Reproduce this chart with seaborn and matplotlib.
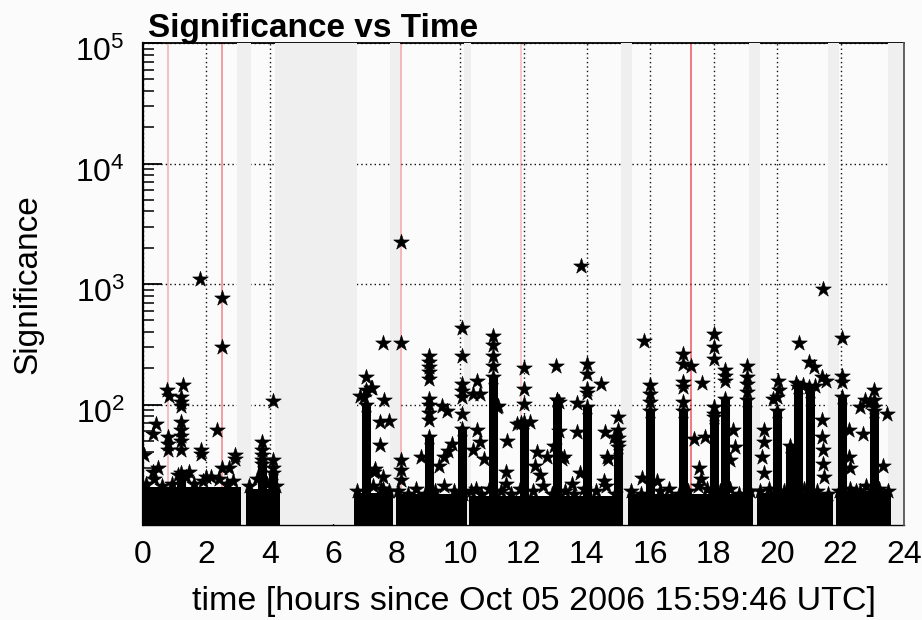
# Significance vs Time  (star scatter on log axis, ROOT-like look)
import numpy as np
import pandas as pd
import matplotlib
matplotlib.use("Agg")
import matplotlib.pyplot as plt
import matplotlib.transforms as mtransforms
from matplotlib.ticker import LogLocator, NullFormatter, LogFormatterMathtext
import seaborn as sns

# 1. DATA (time in hours)
# dead time, drawn as grey bands
gap_start = [2.96, 4.17, 7.79, 10.12, 15.08, 19.10, 21.60, 23.49]
gap_end = [3.40, 6.74, 8.10, 10.36, 15.43, 19.46, 21.96, 24.00]

# red marker lines
red_t = [0.78, 2.48, 8.14, 11.92, 17.29]
red_alpha = [0.35, 0.55, 0.40, 0.30, 0.75]

# dense noise floor, one block per run
band_start = [-0.2, 3.24, 6.67, 7.99, 10.27, 15.31, 19.35, 21.85]
band_end = [3.10, 4.32, 7.87, 10.19, 15.15, 19.23, 21.75, 23.58]
band_top = [20.5, 20, 18.5, 18, 17.5, 18, 18.5, 19]

# stars sticking out of the top of the floor
floor_t = [0.10, 0.35, 0.60, 0.90, 1.10, 1.35, 1.60, 1.90, 2.15, 2.40, 2.65, 2.85,
           3.35, 3.60, 3.90, 4.20,
           6.75, 7.25, 7.50, 7.75,
           8.05, 8.35, 8.60, 8.90, 9.20, 9.50, 9.80, 10.10,
           10.35, 10.65, 10.90, 11.30, 11.60, 11.90, 12.30, 12.60, 12.90, 13.30,
           13.60, 13.90, 14.30, 14.60, 14.90,
           15.40, 15.70, 16.30, 16.60, 16.90, 17.20, 17.50, 17.80, 18.20, 18.50,
           18.80, 19.15,
           19.45, 19.75, 20.20, 20.50, 20.85, 21.25, 21.60,
           21.95, 22.30, 22.50, 22.80, 23.20, 23.50]
floor_sig = [22, 24, 21, 22, 26, 25, 22, 23, 25, 24, 22, 23,
             21, 24, 22, 21,
             19, 21, 20, 19,
             19, 18, 20, 18, 19, 21, 19, 18,
             19, 18, 20, 19, 18, 20, 19, 21, 18, 19,
             18, 20, 19, 21, 18,
             19, 18, 19, 20, 18, 19, 21, 20, 19, 20,
             18, 19,
             19, 20, 19, 21, 20, 19, 18,
             19, 20, 19, 21, 20, 19]

# dense columns of stars
col_t = [1.20, 3.74, 4.11, 7.02, 9.03, 10.05, 11.03, 12.03, 13.05, 14.00, 14.99,
         15.99, 17.02, 18.02, 18.34, 19.04, 20.01, 20.41, 20.67, 21.04, 22.04, 23.04]
col_top = [27, 32, 27, 100, 54, 63, 168, 72, 108, 95, 44,
           89, 89, 79, 112, 108, 89, 45, 140, 130, 115, 89]

# single stars above the floor
star_t = [0.03, 0.31, 0.41, 0.48, 0.31, 0.75, 0.82, 0.80, 0.80, 0.80, 1.27, 1.20, 1.20,
          1.20, 1.20, 1.20, 1.20, 1.20, 1.20, 1.46, 1.80, 1.82, 1.82, 2.00, 2.32, 2.48,
          2.48, 2.48, 2.72, 2.90, 2.90,
          3.74, 3.74, 3.74, 3.74, 4.11, 4.11, 4.11,
          6.85, 7.02, 6.98, 7.02, 7.20, 7.21, 7.46, 7.46, 7.32, 7.58, 7.58, 7.61, 7.76,
          7.30, 7.58,
          8.14, 8.14, 8.14, 8.14, 8.14, 8.76, 9.03, 9.03, 9.03, 9.03, 9.03, 9.03, 9.03,
          9.03, 9.03, 9.42, 9.60, 9.32, 9.48, 9.63, 9.74, 10.05, 10.05, 10.05, 10.05,
          10.05, 10.05,
          10.42, 10.53, 10.63, 10.53, 10.63, 10.42, 10.74, 10.50, 11.03, 11.03, 11.03,
          11.03, 11.15, 11.21, 11.47, 11.45, 11.45, 11.79, 12.03, 12.03, 12.03, 11.93,
          12.20, 12.42, 12.37, 12.52, 12.73, 13.02, 13.05, 13.12, 12.95, 13.20, 13.12,
          13.28, 13.68, 13.70, 13.82, 14.00, 14.00, 14.00, 14.00, 14.45, 13.52, 13.78,
          14.57, 14.63, 14.68, 14.84, 14.55, 14.99, 14.99, 14.99, 14.99,
          15.81, 15.99, 15.99, 15.99, 15.73, 16.20, 17.02, 17.02, 17.02, 17.02, 17.02,
          17.29, 17.64, 17.39, 17.71, 17.54, 17.60, 18.02, 18.02, 18.02, 18.02, 18.02,
          18.34, 18.34, 18.34, 18.62, 18.67, 18.52, 19.04, 19.04, 19.04, 19.04,
          19.57, 19.57, 19.52, 19.60, 20.01, 20.04, 20.07, 19.88, 20.70, 20.99, 21.15,
          21.41, 21.55, 20.60, 20.80, 21.00, 21.20, 21.41, 21.41, 21.44, 21.45, 21.48,
          21.46,
          22.04, 22.04, 22.04, 22.25, 22.25, 22.30, 23.04, 23.04, 23.04, 22.62, 22.78,
          22.93, 23.46, 22.72, 23.35, 22.62]
star_sig = [38, 57, 69, 30, 27.5, 132, 118, 54, 47, 42, 144, 115, 105,
            98, 71, 61, 55, 50, 42, 27.5, 1100, 42, 39, 25, 62, 760,
            300, 29.5, 30, 38, 35,
            49, 42, 38, 34.5, 107, 34.5, 30,
            118, 168, 116, 131, 136, 138, 71, 46, 29, 25, 325, 109, 73,
            27.5, 20,
            2240, 325, 34.5, 28.5, 23.5, 36.6, 251, 224, 204, 186, 163, 112, 100,
            85, 75, 97, 89, 31, 37, 41, 47, 430, 251, 148, 130,
            115, 84,
            123, 158, 123, 61, 49, 42, 35, 20, 373, 310, 255,
            210, 95, 98, 50, 27.5, 22, 69, 200, 135, 101, 70,
            72, 40, 31, 26, 36.6, 210, 108, 105, 45, 35, 60,
            37, 103, 59, 1410, 218, 179, 135, 125, 148, 22, 27,
            59, 37, 35.5, 54, 23, 79, 61, 53, 48,
            335, 144, 123, 105, 24.6, 23, 263, 218, 153, 141, 105,
            207, 150, 52, 54, 30, 24, 386, 300, 240, 95, 84,
            192, 174, 158, 61, 44, 34.5, 210, 168, 148, 126,
            61, 49, 37, 27, 115, 158, 131, 112, 325, 224, 204,
            168, 158, 150, 145, 140, 142, 74, 54, 42, 32, 25,
            910,
            357, 174, 153, 61, 37, 29.5, 132, 108, 95, 96, 108,
            105, 84, 57, 31, 19]

stars = pd.DataFrame({"time": star_t + col_t + floor_t,
                      "significance": star_sig + col_top + floor_sig})

# 2. STYLE
sns.set_style("white")
plt.rcParams["font.family"] = ["Liberation Sans", "DejaVu Sans"]
plt.rcParams["mathtext.fontset"] = "custom"
plt.rcParams["mathtext.rm"] = "Liberation Sans"
plt.rcParams["mathtext.it"] = "Liberation Sans:italic"
plt.rcParams["mathtext.bf"] = "Liberation Sans:bold"
plt.rcParams["text.color"] = "black"
plt.rcParams["axes.labelcolor"] = "black"
plt.rcParams["xtick.color"] = "black"
plt.rcParams["ytick.color"] = "black"

bg = "#fbfbfb"
fig = plt.figure(figsize=(9.22, 6.2), dpi=100, facecolor=bg)
ax = fig.add_axes([143 / 922, 1 - 525 / 620, 761 / 922, 482 / 620], facecolor=bg)

# 3. PLOT
ax.set_yscale("log")
ax.set_xlim(0, 24)
ax.set_ylim(10, 1e5)

# dotted grid
ax.set_axisbelow(True)
ax.grid(True, which="major", color="#111111", lw=1.0, ls=(0, (1, 2.2)))
ax.grid(False, which="minor")

# red marker lines
for t, a in zip(red_t, red_alpha):
    ax.axvline(t, color="#e8202a", alpha=a, lw=1.1, zorder=1)

# dead time
for s, e in zip(gap_start, gap_end):
    ax.axvspan(s, e, ymin=0.003, ymax=1, color="#efefef", lw=0, zorder=2.6)

# noise floor and dense columns
ax.bar(band_start, np.array(band_top) - 10, bottom=10,
       width=np.array(band_end) - np.array(band_start),
       align="edge", color="black", lw=0, zorder=3)
ax.vlines(col_t, 10, col_top, color="black", lw=6.5, zorder=3)

sns.scatterplot(data=stars, x="time", y="significance", marker="*", s=140,
                color="black", edgecolor="black", linewidth=0.4, zorder=4, ax=ax)

# 4. AXES
ax.set_xticks(range(0, 25, 2))
ax.set_yticks([1e2, 1e3, 1e4, 1e5])
ax.yaxis.set_major_formatter(LogFormatterMathtext())
ax.yaxis.set_minor_locator(LogLocator(base=10, subs=np.arange(2, 10)))
ax.yaxis.set_minor_formatter(NullFormatter())
ax.set_xlim(0, 24)
ax.set_ylim(10, 1e5)

ax.tick_params(axis="x", which="both", length=0, pad=11, labelsize=23)
ax.tick_params(axis="y", which="major", direction="in", length=14, width=1.3,
               pad=13, labelsize=23, right=False, left=True)
ax.tick_params(axis="y", which="minor", direction="in", length=8, width=1.1,
               right=False, left=True)

for lab in ax.get_yticklabels():
    lab.set_va("top")
    lab.set_transform(lab.get_transform() +
                      mtransforms.ScaledTranslation(0, 6 / 100, fig.dpi_scale_trans))

ax.spines["left"].set_linewidth(1.6)
ax.spines["top"].set_linewidth(1.3)
ax.spines["bottom"].set_linewidth(1.0)
ax.spines["right"].set_linewidth(1.3)
for name, sp in ax.spines.items():
    sp.set_visible(True)
    sp.set_color("black")
ax.spines["right"].set_color("#555555")
ax.spines["right"].set_zorder(3)

ax.set_xlabel("time [hours since Oct 05 2006 15:59:46 UTC]", fontsize=24.5, va="top")
ax.xaxis.set_label_coords(0.514, -0.127)
ax.set_ylabel("Significance", fontsize=24)
ax.yaxis.set_label_coords(-0.131, 0.5)

fig.text(148 / 922, 1 - 37 / 620, "Significance vs Time", fontsize=24,
         fontweight="bold", ha="left", va="baseline")

fig.savefig("out.png", dpi=100, facecolor=bg)
